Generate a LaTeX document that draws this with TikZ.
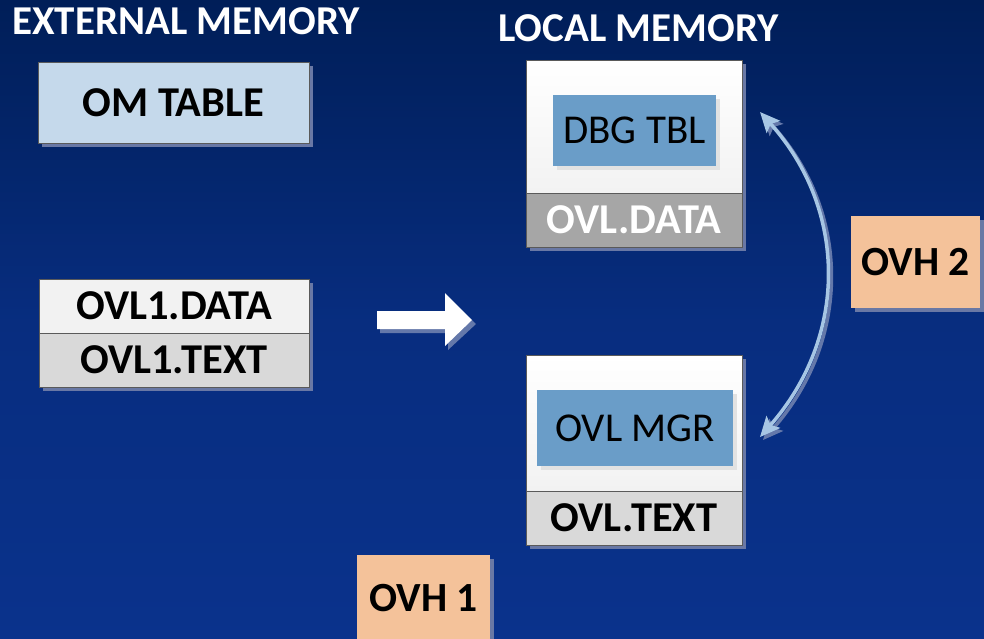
\documentclass[tikz,border=0pt]{standalone}
\usepackage{fontspec}
\setmainfont{Carlito}
\usetikzlibrary{arrows.meta,shadows}
\definecolor{bgtop}{RGB}{0,30,88}
\definecolor{bgbot}{RGB}{10,50,140}
\definecolor{shd}{RGB}{105,120,165}
\definecolor{omblue}{RGB}{197,217,235}
\definecolor{lgray}{RGB}{242,242,242}
\definecolor{mgray}{RGB}{217,217,217}
\definecolor{dgray}{RGB}{166,166,166}
\definecolor{inblue}{RGB}{106,157,200}
\definecolor{inshd}{RGB}{226,226,226}
\definecolor{peach}{RGB}{244,194,154}
\definecolor{arrblue}{RGB}{167,198,228}
\definecolor{arrshd}{RGB}{100,120,170}
\definecolor{boxline}{RGB}{90,90,90}
\begin{document}
\begin{tikzpicture}[x=1pt,y=-1pt,
  base/.style={inner sep=0pt, outer sep=0pt, anchor=north west},
  shd/.style={drop shadow={shadow xshift=4pt, shadow yshift=-4pt, fill=shd, opacity=1}},
  bigbold/.style={font=\bfseries\fontsize{42.5}{46}\selectfont},
  outbox/.style={base, shd, draw=boxline, line width=1pt, text=black, bigbold},
  inbox/.style={base, fill=inblue, text=black, font=\fontsize{41}{45}\selectfont,
     drop shadow={shadow xshift=4pt, shadow yshift=-4pt, fill=inshd, opacity=1}},
  ovh/.style={base, shd, fill=peach, text=black, font=\bfseries\fontsize{41.5}{45}\selectfont},
  title/.style={anchor=west, inner sep=0pt, text=white, font=\bfseries\fontsize{41}{45}\selectfont}
]
\useasboundingbox (0,0) rectangle (984,638);
\clip (0,0) rectangle (984,638);
\shade[top color=bgtop, bottom color=bgbot, middle color=bgbot!75!bgtop] (0,0) rectangle (984,638);

% titles
\node[title] (t1) at (12,21) {EXTERNAL MEMORY};
\node[title] (t2) at (498,28) {LOCAL MEMORY};

% external memory
\node[outbox, fill=omblue, minimum width=271pt, minimum height=81pt] (om) at (38,62) {OM TABLE};
\node[outbox, fill=lgray, minimum width=270pt, minimum height=54pt] (o1d) at (39,279) {OVL1.DATA};
\node[outbox, fill=mgray, minimum width=270pt, minimum height=54pt] (o1t) at (39,333) {OVL1.TEXT};

% block arrow
\fill[arrshd] (380,315) -- (448,315) -- (448,297) -- (476,324) -- (448,350) -- (448,333) -- (380,333) -- cycle;
\fill[white] (377,311) -- (445,311) -- (445,293) -- (472,320) -- (445,346) -- (445,329) -- (377,329) -- cycle;

% local memory top
\node[outbox, top color=white, bottom color=lgray, minimum width=216pt, minimum height=133pt] (lu) at (526,60) {};
\node[outbox, fill=dgray, text=white, minimum width=216pt, minimum height=54pt] (ld) at (526,193) {OVL.DATA};
\node[inbox, minimum width=163pt, minimum height=71pt] (dbg) at (553,95) {DBG TBL};

% local memory bottom
\node[outbox, top color=white, bottom color=lgray, minimum width=216pt, minimum height=136pt] (bu) at (526,355) {};
\node[outbox, fill=mgray, minimum width=216pt, minimum height=54pt] (bd) at (526,491) {OVL.TEXT};
\node[inbox, minimum width=196pt, minimum height=76pt] (mgr) at (537,390) {OVL MGR};

% overhead boxes
\node[ovh, minimum width=129pt, minimum height=92pt] (ovh2) at (851,216) {OVH 2};
\node[ovh, minimum width=133pt, minimum height=86pt] (ovh1) at (357,555) {\raisebox{-5pt}{OVH 1}};

% curved double arrow
\coordinate (a1) at (760,112);
\coordinate (a2) at (760,437);
\draw[arrshd, line width=3.5pt, {Stealth[length=20pt,width=18pt,inset=4pt]}-{Stealth[length=20pt,width=18pt,inset=4pt]}]
  ([shift={(3,3)}]a1) .. controls (851,213) and (851,340) .. ([shift={(3,3)}]a2);
\draw[arrblue, line width=3.5pt, {Stealth[length=20pt,width=18pt,inset=4pt]}-{Stealth[length=20pt,width=18pt,inset=4pt]}]
  (a1) .. controls (848,210) and (848,337) .. (a2);
\end{tikzpicture}
\end{document}
